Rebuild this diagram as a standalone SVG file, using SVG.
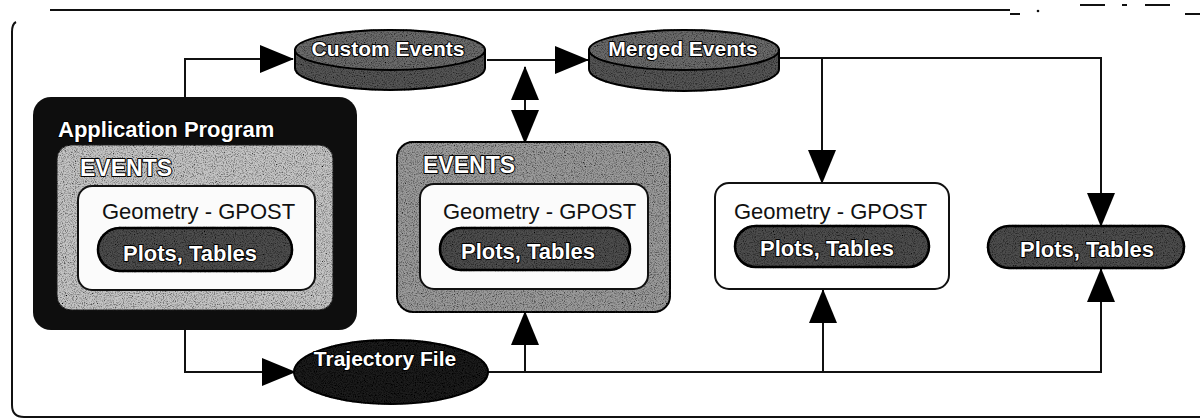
<svg xmlns="http://www.w3.org/2000/svg" width="1200" height="419" viewBox="0 0 1200 419">
<style>
.ln{fill:none;stroke:#111;stroke-width:2}
.wt{font-family:"Liberation Sans",Arial,sans-serif;font-weight:bold;fill:#fff;stroke:#000;stroke-width:2;paint-order:stroke;stroke-linejoin:round}
.gt{font-family:"Liberation Sans",Arial,sans-serif;font-size:22px;fill:#111}
.pill{fill:#4d4d4d;stroke:#000;stroke-width:2.5}
</style>
<defs>
<filter id="speck" x="-0.1" y="-0.2" width="1.2" height="1.4">
<feTurbulence type="fractalNoise" baseFrequency="0.9" numOctaves="2" seed="3" result="n"/>
<feColorMatrix in="n" type="matrix" values="0 0 0 0 0  0 0 0 0 0  0 0 0 0 0  0 0 0 -2.2 1.25" result="a"/>
<feComposite in="a" in2="SourceGraphic" operator="in" result="d"/>
<feMerge><feMergeNode in="SourceGraphic"/><feMergeNode in="d"/></feMerge>
</filter>
<marker id="ah" markerUnits="userSpaceOnUse" markerWidth="34" markerHeight="28" viewBox="0 0 34 28" refX="33" refY="14" orient="auto-start-reverse">
<path d="M0,0 L34,14 L0,28 Z" fill="#000"/>
</marker>
</defs>

<g id="frame">
<path d="M50,10 H1010" fill="none" stroke="#111" stroke-width="2.2"/>
<path d="M1010,14 H1020 M1080,5 H1105 M1122,5 H1127 M1145,5 H1170 M1185,14 H1200" fill="none" stroke="#111" stroke-width="1.8"/>
<circle cx="1038" cy="11" r="1.3" fill="#111"/>
<path d="M16,22 Q12,24 12,32 V405 Q12,417 24,417 H1200" fill="none" stroke="#111" stroke-width="2"/>
</g>

<g id="connectors">
<path class="ln" d="M185,97 V59 H293" marker-end="url(#ah)"/>
<path class="ln" d="M185,330 V372 H295" marker-end="url(#ah)"/>
<path class="ln" d="M487,60 H588" marker-end="url(#ah)"/>
<path class="ln" d="M525,67 V143" marker-start="url(#ah)" marker-end="url(#ah)"/>
<path class="ln" d="M780,58 H1101 V226" marker-end="url(#ah)"/>
<path class="ln" d="M822,58 V183" marker-end="url(#ah)"/>
<path class="ln" d="M488,372 H1101 V269" marker-end="url(#ah)"/>
<path class="ln" d="M525,372 V312" marker-end="url(#ah)"/>
<path class="ln" d="M823,372 V290" marker-end="url(#ah)"/>
</g>

<g id="app-program">
<rect x="33" y="97" width="324" height="233" rx="18" fill="#0e0e0e"/>
<text class="wt" x="58" y="137" font-size="22" stroke-width="0">Application Program</text>
<rect x="57" y="145" width="276" height="165" rx="14" fill="#c4c4c4" stroke="#222" stroke-width="1" filter="url(#speck)"/>
<text class="wt" x="80" y="176" font-size="23">EVENTS</text>
<rect x="78" y="186" width="237" height="104" rx="14" fill="#fbfbfb" stroke="#111" stroke-width="2"/>
<text class="gt" x="102" y="219">Geometry - GPOST</text>
<rect class="pill" x="98" y="228" width="194" height="43" rx="21.5" filter="url(#speck)"/>
<text class="wt" x="190" y="261" font-size="22" text-anchor="middle">Plots, Tables</text>
</g>

<g id="custom-events">
<path d="M295,50 V68 A95,22 0 0 0 485,68 V50 Z" fill="#555" stroke="#000" stroke-width="2" filter="url(#speck)"/>
<ellipse cx="390" cy="50" rx="95" ry="20" fill="#6a6a6a" stroke="#000" stroke-width="2" filter="url(#speck)"/>
<text class="wt" x="388" y="56" font-size="21" text-anchor="middle">Custom Events</text>
</g>

<g id="merged-events">
<path d="M589,50 V69 A95,22 0 0 0 779,69 V50 Z" fill="#555" stroke="#000" stroke-width="2" filter="url(#speck)"/>
<ellipse cx="684" cy="50" rx="95" ry="20" fill="#6a6a6a" stroke="#000" stroke-width="2" filter="url(#speck)"/>
<text class="wt" x="683" y="56" font-size="21" text-anchor="middle">Merged Events</text>
</g>

<g id="trajectory-file">
<ellipse cx="391" cy="372" rx="97" ry="32" fill="#1c1c1c" stroke="#000" stroke-width="2" filter="url(#speck)"/>
<text class="wt" x="385" y="366" font-size="21" text-anchor="middle">Trajectory File</text>
</g>

<g id="events-mid">
<rect x="397" y="142" width="273" height="170" rx="16" fill="#9a9a9a" stroke="#111" stroke-width="2" filter="url(#speck)"/>
<text class="wt" x="423" y="173" font-size="23">EVENTS</text>
<rect x="420" y="184" width="228" height="105" rx="14" fill="#fbfbfb" stroke="#111" stroke-width="2"/>
<text class="gt" x="443" y="219">Geometry - GPOST</text>
<rect class="pill" x="440" y="228" width="190" height="42" rx="21" filter="url(#speck)"/>
<text class="wt" x="528" y="259" font-size="22" text-anchor="middle">Plots, Tables</text>
</g>

<g id="geometry-right">
<rect x="715" y="183" width="234" height="106" rx="14" fill="#fff" stroke="#111" stroke-width="2"/>
<text class="gt" x="734" y="219">Geometry - GPOST</text>
<rect class="pill" x="735" y="226" width="194" height="41" rx="20.5" filter="url(#speck)"/>
<text class="wt" x="827" y="256" font-size="22" text-anchor="middle">Plots, Tables</text>
</g>

<g id="plots-right">
<rect class="pill" x="988" y="226" width="196" height="42" rx="21" fill="#5a5a5a" filter="url(#speck)"/>
<text class="wt" x="1087" y="257" font-size="22" text-anchor="middle">Plots, Tables</text>
</g>
</svg>
